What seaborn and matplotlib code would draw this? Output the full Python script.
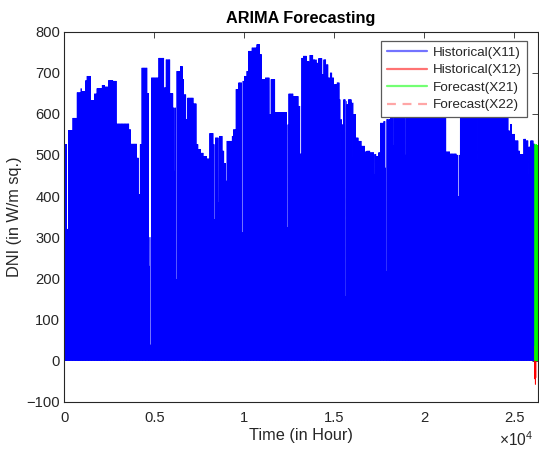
import numpy as np
import matplotlib
matplotlib.use("Agg")
import matplotlib.pyplot as plt
from matplotlib.lines import Line2D
import seaborn as sns

# ---- data -------------------------------------------------------------
# Daily peak DNI (W/m sq.) of the historical record, as a step envelope:
# each level holds from its start day until the next start day.
seg_start_day = [0, 9, 19, 29, 38, 40, 48, 52, 61, 69, 75, 87, 94, 102, 113,
                 121, 150, 154, 168, 172, 175, 179, 192, 197, 200, 218, 231,
                 235, 245, 252, 260, 268, 274, 277, 282, 285, 299, 306, 310,
                 316, 322, 330, 336, 345, 349, 359, 366, 370, 374, 376, 388,
                 391, 397, 403, 411, 416, 422, 426, 434, 445, 453, 457, 465,
                 475, 478, 488, 516, 519, 530, 542, 546, 549, 553, 561, 568,
                 576, 584, 588, 597, 600, 606, 611, 615, 620, 625, 631, 637,
                 640, 642, 646, 651, 654, 657, 665, 669, 675, 681, 688, 696,
                 700, 708, 717, 722, 727, 731, 739, 745, 755, 775, 800, 830,
                 860, 884, 893, 908, 916, 935, 958, 990, 1020, 1028, 1032,
                 1036, 1043, 1051, 1055, 1063, 1069, 1074, 1078, 1086]
seg_peak = [526, 560, 590, 652, 662, 655, 681, 692, 633, 649, 662, 670, 666,
            682, 680, 576, 562, 527, 493, 404, 526, 712, 650, 688, 688, 736,
            664, 732, 650, 615, 704, 716, 684, 647, 587, 639, 625, 526, 514,
            505, 497, 491, 553, 526, 542, 546, 510, 480, 437, 534, 546, 562,
            660, 676, 680, 692, 704, 753, 761, 769, 745, 684, 688, 599, 684,
            604, 574, 649, 643, 619, 503, 736, 741, 728, 743, 732, 724, 735,
            696, 732, 720, 688, 700, 688, 672, 676, 635, 587, 574, 635, 631,
            623, 635, 627, 599, 542, 534, 522, 508, 510, 506, 502, 497, 506,
            578, 582, 587, 640, 690, 700, 660, 630, 508, 503, 500, 640, 620,
            595, 598, 590, 559, 575, 551, 535, 510, 502, 539, 535, 520, 535,
            527]

# Overcast days with a much lower daily peak
dip_day = [6, 7, 8, 196, 197, 198, 199, 200, 254, 258, 259, 346, 347, 356,
           411, 412, 515, 516, 567, 581, 598, 624, 639, 651, 652, 666, 718,
           726, 743, 744, 745, 750, 762, 789, 912, 913, 956, 1074, 1078]
dip_peak = [320, 230, 320, 300, 230, 38, 38, 300, 461, 198, 198, 344, 344,
            384, 311, 311, 324, 324, 623, 645, 696, 542, 514, 155, 155, 493,
            452, 477, 469, 216, 216, 492, 524, 500, 400, 358, 477, 453, 437]

# Fraction of the daily peak reached at each hour of the day
hour_profile = [0, 0, 0, 0, 0, 0, 0.05, 0.25, 0.50, 0.70, 0.85, 0.95,
                1.0, 0.95, 0.85, 0.70, 0.50, 0.25, 0.05, 0, 0, 0, 0, 0]

n_hist_days = 1089

# Historical(X12), starting at hour 26120
x12_start = 26120
hist_x12 = [0, 0, 0, 2, 8, 18, 27, 34, 30, 22, 12, 4, -3, -6, -4, 0, 0, 0,
            0, 0, 0, 0, 0, 0,
            0, 0, -5, -15, -28, -38, -45, -42, -30, -18, -8, 0, 0, 0, 0, 0,
            0, 0, 0, 0, 0, 0, 0, 0,
            0, 0, -8, -22, -40, -52, -58, -55, -44, -30, -14, -4, 0, 0, 0,
            0, 0, 0, 0, 0, 0, 0, 0, 0,
            0, 0, -4, -12, -25, -36, -42, -38, -26, -14, -5, 0]

# Forecast(X21): daily peaks of the one-week forecast
forecast_peak = [527, 522, 525, 520, 526, 523, 524]
# Forecast(X22)
forecast_x22 = []

x_ticks = [0, 5000, 10000, 15000, 20000, 25000]
x_tick_labels = ["0", "0.5", "1", "1.5", "2", "2.5"]
y_ticks = [-100, 0, 100, 200, 300, 400, 500, 600, 700, 800]

# ---- build hourly series ---------------------------------------------
day_peak = np.zeros(n_hist_days)
bounds = list(seg_start_day) + [n_hist_days]
for i, p in enumerate(seg_peak):
    day_peak[bounds[i]:bounds[i + 1]] = p
for d, p in zip(dip_day, dip_peak):
    day_peak[d] = p
profile = np.asarray(hour_profile)
hist_x11 = (day_peak[:, None] * profile[None, :]).ravel()
hist_hours = np.arange(hist_x11.size)

fc_x21 = (np.asarray(forecast_peak, float)[:, None] * profile[None, :]).ravel()
fc_hours = hist_hours.size + np.arange(fc_x21.size)

x12_hours = x12_start + np.arange(len(hist_x12))

# ---- style -------------------------------------------------------------
sns.set_theme(style="white")
plt.rcParams["font.family"] = ["Liberation Sans", "DejaVu Sans"]
plt.rcParams["mathtext.fontset"] = "custom"
plt.rcParams["mathtext.rm"] = "Liberation Sans"
plt.rcParams["path.simplify"] = False

dark = "#262626"
fig = plt.figure(figsize=(5.39, 4.51), dpi=100)
fig.patch.set_facecolor("white")
ax = fig.add_axes([64.3 / 539, (451 - 401.6) / 451,
                   (537.7 - 64.3) / 539, (401.6 - 31.7) / 451])
ax.set_facecolor("white")

lw = 0.26
sns.lineplot(x=hist_hours, y=hist_x11, ax=ax, color="#0000ff", linewidth=lw,
             estimator=None, sort=False, legend=False)
sns.lineplot(x=x12_hours, y=hist_x12, ax=ax, color="#ff0000", linewidth=0.6,
             estimator=None, sort=False, legend=False)
sns.lineplot(x=fc_hours, y=fc_x21, ax=ax, color="#00ff00", linewidth=0.4,
             estimator=None, sort=False, legend=False)
if len(forecast_x22):
    ax.plot(fc_hours[:len(forecast_x22)], forecast_x22, color="#ff9999",
            linestyle="--", linewidth=0.6)

ax.set_xlim(0, 26304)
ax.set_ylim(-100, 800)
ax.set_xticks(x_ticks)
ax.set_xticklabels(x_tick_labels)
ax.set_yticks(y_ticks)

for s in ax.spines.values():
    s.set_visible(True)
    s.set_color(dark)
    s.set_linewidth(0.8)
ax.tick_params(direction="in", top=True, right=True, length=4, width=0.6,
               color=dark, labelcolor=dark, labelsize=10.6)
ax.tick_params(axis="x", pad=7)
ax.tick_params(axis="y", pad=3)

ax.set_xlabel("Time (in Hour)", fontsize=11.7, color=dark, labelpad=2)
ax.set_ylabel("DNI (in W/m sq.)", fontsize=11.7, color=dark, labelpad=3)
ax.set_title("ARIMA Forecasting", fontsize=11.7, fontweight="bold",
             color="black", pad=6)
fig.text(499 / 539, 1 - 446 / 451, r"$\times\mathregular{10^{4}}$",
         fontsize=11.2, color=dark, ha="left", va="baseline")

handles = [
    Line2D([], [], color="#0000ff", alpha=0.55, linewidth=1.6),
    Line2D([], [], color="#ff0000", alpha=0.55, linewidth=1.6),
    Line2D([], [], color="#00ff00", alpha=0.55, linewidth=1.6),
    Line2D([], [], color="#ff0000", alpha=0.35, linewidth=1.6,
           linestyle=(0, (4, 3))),
]
labels = ["Historical(X11)", "Historical(X12)", "Forecast(X21)",
          "Forecast(X22)"]
leg = ax.legend(handles, labels, loc="upper right",
                bbox_to_anchor=((527 - 64.3) / 473.4, (401.6 - 41) / 369.9),
                borderaxespad=0, fontsize=9.7, frameon=True, fancybox=False,
                framealpha=1, edgecolor="#5a5a5a", handlelength=3.0,
                handletextpad=0.42, labelspacing=0.38, borderpad=0.4)
leg.get_frame().set_linewidth(0.9)
for t in leg.get_texts():
    t.set_color(dark)

fig.savefig("out.png", dpi=100, facecolor="white")
